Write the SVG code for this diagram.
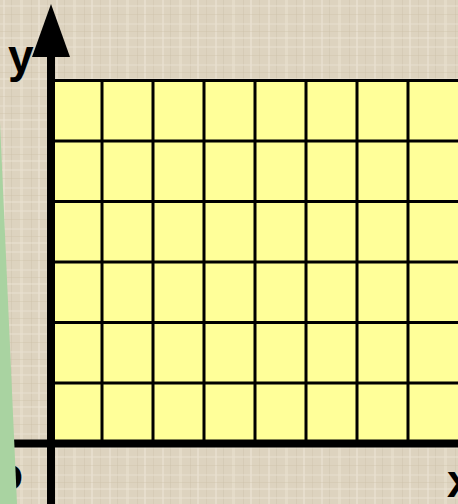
<svg xmlns="http://www.w3.org/2000/svg" width="458" height="504" viewBox="0 0 458 504">
  <defs>
    <pattern id="linen" x="0" y="0" width="53" height="41" patternUnits="userSpaceOnUse">
      <rect width="53" height="41" fill="#ddd3bf"/>
      <rect x="3" y="0" width="2" height="41" fill="#ebe3d3" opacity="0.6"/>
      <rect x="11" y="0" width="1" height="41" fill="#cdc1aa" opacity="0.45"/>
      <rect x="20" y="0" width="3" height="41" fill="#e9e1d0" opacity="0.55"/>
      <rect x="31" y="0" width="1" height="41" fill="#cbbfa7" opacity="0.4"/>
      <rect x="38" y="0" width="2" height="41" fill="#ece5d6" opacity="0.55"/>
      <rect x="47" y="0" width="1" height="41" fill="#cdc1aa" opacity="0.4"/>
      <rect x="0" y="5" width="53" height="2" fill="#ebe3d3" opacity="0.45"/>
      <rect x="0" y="14" width="53" height="1" fill="#cbbfa7" opacity="0.35"/>
      <rect x="0" y="23" width="53" height="2" fill="#e9e1d0" opacity="0.45"/>
      <rect x="0" y="31" width="53" height="1" fill="#cbbfa7" opacity="0.35"/>
      <rect x="0" y="37" width="53" height="2" fill="#ede6d8" opacity="0.4"/>
    </pattern>
    <style>
      .grid { stroke: #000; stroke-width: 3; fill: none; }
      .axis { stroke: #000; stroke-width: 8; fill: none; }
      .lbl { font-family: "Liberation Sans", Arial, sans-serif; font-weight: bold; font-size: 46px; fill: #000; }
    </style>
  </defs>

  <rect id="background" x="0" y="0" width="458" height="504" fill="url(#linen)"/>

  <g id="grid">
    <rect x="51" y="80.5" width="410" height="362.5" fill="#ffff99"/>
    <path class="grid" d="M51 80.5H458 M51 141H458 M51 201.5H458 M51 262H458 M51 322.5H458 M51 383H458
      M102 80.5V443 M153 80.5V443 M204 80.5V443 M255 80.5V443 M306 80.5V443 M357 80.5V443 M408 80.5V443"/>
  </g>

  <g id="connectors">
    <line class="axis" x1="0" y1="443.5" x2="458" y2="443.5"/>
    <line class="axis" x1="51" y1="55" x2="51" y2="504"/>
    <polygon points="51,4 70,57 32,57" fill="#000"/>
  </g>

  <g id="label-o">
    <text class="lbl" x="23" y="490" text-anchor="end">o</text>
  </g>

  <g id="green-shape">
    <polygon points="0,122 17,504 0,504" fill="#a9d3a1"/>
  </g>

  <g id="label-y">
    <text class="lbl" x="8" y="72">y</text>
  </g>

  <g id="label-x">
    <text class="lbl" x="447" y="497">x</text>
  </g>
</svg>
